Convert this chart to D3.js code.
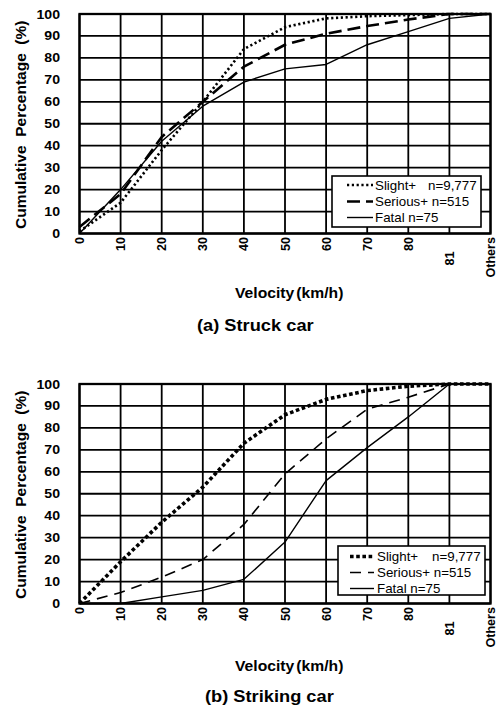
<!DOCTYPE html>
<html><head><meta charset="utf-8">
<script src="https://cdn.jsdelivr.net/npm/d3@7"></script>
<style>
body{margin:0;background:#fff}
svg{display:block}
text{font-family:"Liberation Sans",Arial,Helvetica,sans-serif;fill:#000}
</style>
</head><body>
<svg id="c" width="497" height="706"></svg>
<script>
// ---------- data ----------
const categories = ["0","10","20","30","40","50","60","70","80","81","Others"];
const yTicks = [0,10,20,30,40,50,60,70,80,90,100];
const seriesNames = ["Slight+","Serious+","Fatal"];
const seriesCounts = ["n=9,777","n=515","n=75"];

// (a) Struck car
const struckSlight  = [1,14,38,60,84,94,98,99,99.5,100,100];
const struckSerious = [3,18,44,60,76,86,91,94.5,97.5,100,100];
const struckFatal   = [0,20,42,58,69,75,77,86,92,98,100];

// (b) Striking car
const strikingSlight  = [0,19,37,53,73,86,93,97,99,100,100];
const strikingSerious = [0,5,12,20,36,59,75,88.5,94,100,100];
const strikingFatal   = [0,0,3,6,11,28,56,71,85,100,100];

const xTitle = "Velocity (km/h)";
const yTitle = "Cumulative  Percentage  (%)";
const captions = ["(a) Struck car","(b) Striking car"];

// ---------- drawing ----------
const svg = d3.select("#c");
const SX = 1.12; // horizontal stretch of horizontal text

const panels = [
  {top:14, bottom:233.5, series:[struckSlight,struckSerious,struckFatal],
   styles:[{w:2.6,d:"2.2,2.6"},{w:2.6,d:"13,6"},{w:1.4,d:null}],
   legend:{x0:332,y0:176,x1:481,y1:227,lx0:347,lx1:373,tx:375,nx:428,rows:[185,201.5,217.5]},
   xt:{y:298,x:235}, cap:{y:331,x:197}},
  {top:384, bottom:603.5, series:[strikingSlight,strikingSerious,strikingFatal],
   styles:[{w:3.6,d:"3.6,2.6"},{w:1.6,d:"11,7"},{w:1.4,d:null}],
   legend:{x0:338,y0:546,x1:485,y1:595,lx0:350,lx1:374,tx:377,nx:432,rows:[556.5,572.5,588.5]},
   xt:{y:670.5,x:235}, cap:{y:701.5,x:205}}
];

const left = 79.5, right = 490.5;

function stretchText(sel, x, y, s){
  sel.attr("transform", `translate(${x},${y}) scale(${s||SX},1)`);
}

panels.forEach((p,pi)=>{
  const x = d3.scalePoint().domain(categories).range([left,right]);
  const y = d3.scaleLinear().domain([0,100]).range([p.bottom,p.top]);
  const g = svg.append("g");

  // horizontal grid
  g.append("g").selectAll("line").data(yTicks).join("line")
    .attr("x1",left).attr("x2",right)
    .attr("y1",d=>y(d)).attr("y2",d=>y(d))
    .attr("stroke","#000").attr("stroke-width",1.8);
  // vertical grid
  g.append("g").selectAll("line").data(categories).join("line")
    .attr("x1",d=>x(d)).attr("x2",d=>x(d))
    .attr("y1",p.top).attr("y2",p.bottom)
    .attr("stroke","#000").attr("stroke-width",1.8);
  // border
  g.append("rect").attr("x",left).attr("y",p.top)
    .attr("width",right-left).attr("height",p.bottom-p.top)
    .attr("fill","none").attr("stroke","#000").attr("stroke-width",2.3);

  // y tick labels
  g.append("g").selectAll("text").data(yTicks).join("text")
    .attr("text-anchor","end").attr("dy","0.36em")
    .style("font-size","12.6px").style("font-weight","bold")
    .each(function(d){ stretchText(d3.select(this), 60, y(d)); })
    .text(d=>d);

  // x tick labels (rotated)
  g.append("g").selectAll("text").data(categories).join("text")
    .attr("text-anchor","end").attr("dy","0.36em")
    .style("font-size","12.6px").style("font-weight","bold")
    .attr("transform",d=>`translate(${x(d)},${p.bottom + (d==="81"?18:3.5)}) rotate(-90)`)
    .text(d=>d);

  // y title
  g.append("text")
    .attr("text-anchor","middle").attr("dy","0.35em")
    .style("font-size","15.5px").style("font-weight","bold").style("white-space","pre")
    .attr("transform",`translate(21,${(p.top+p.bottom)/2+1}) rotate(-90)`)
    .text(yTitle);

  // x title
  g.append("text").style("font-size","14px").style("font-weight","bold")
    .style("word-spacing","-2px")
    .each(function(){ stretchText(d3.select(this), p.xt.x, p.xt.y); })
    .text(xTitle);
  // caption
  g.append("text").style("font-size","16.3px").style("font-weight","bold")
    .style("white-space","pre")
    .each(function(){ stretchText(d3.select(this), p.cap.x, p.cap.y); })
    .text(captions[pi]);

  // series lines
  const line = d3.line().x((d,i)=>x(categories[i])).y(d=>y(d));
  p.series.forEach((vals,si)=>{
    const st = p.styles[si];
    g.append("path").datum(vals).attr("d",line)
      .attr("fill","none").attr("stroke","#000")
      .attr("stroke-width",st.w)
      .attr("stroke-dasharray",st.d)
      .attr("stroke-linejoin","round");
  });

  // legend
  const L = p.legend;
  const LS = 1.06;
  g.append("rect").attr("x",L.x0).attr("y",L.y0)
    .attr("width",L.x1-L.x0).attr("height",L.y1-L.y0)
    .attr("fill","#fff").attr("stroke","#000").attr("stroke-width",1.6);
  seriesNames.forEach((nm,si)=>{
    const st = p.styles[si];
    const ry = L.rows[si];
    g.append("line").attr("x1",L.lx0).attr("x2",L.lx1).attr("y1",ry).attr("y2",ry)
      .attr("stroke","#000").attr("stroke-width",st.w).attr("stroke-dasharray",st.d);
    if(si===0){
      g.append("text").attr("dy","0.36em").style("font-size","12.6px")
        .each(function(){ stretchText(d3.select(this), L.tx, ry, LS); }).text(nm);
      g.append("text").attr("dy","0.36em").style("font-size","12.6px")
        .each(function(){ stretchText(d3.select(this), L.nx, ry, LS); }).text(seriesCounts[si]);
    } else {
      g.append("text").attr("dy","0.36em").style("font-size","12.6px")
        .each(function(){ stretchText(d3.select(this), L.tx, ry, LS); })
        .text(nm + " " + seriesCounts[si]);
    }
  });
});
</script>
</body></html>
